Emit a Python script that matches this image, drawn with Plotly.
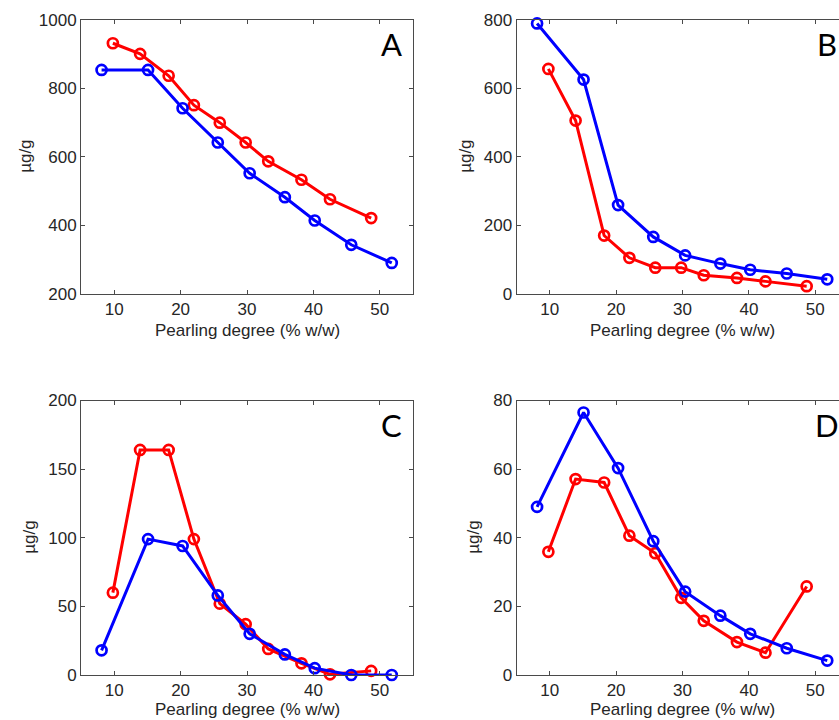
import plotly.graph_objects as go

# Pearling degree (% w/w) of the two series of fractions
x_blue = [8.1, 15.1, 20.3, 25.6, 30.4, 35.7, 40.2, 45.7, 51.8]
x_red = [9.8, 13.9, 18.2, 22.0, 25.9, 29.8, 33.2, 38.2, 42.5, 48.7]

# Concentrations (µg/g) per panel
a_blue = [854, 854, 742, 642, 552, 482, 414, 343, 290]
a_red = [932, 901, 837, 751, 700, 642, 587, 533, 476, 421]
b_blue = [790, 626, 259, 166, 112, 88, 70, 59, 42]
b_red = [657, 506, 170, 105, 76, 76, 54, 46, 36, 22]
c_blue = [18, 99, 94, 58, 30, 15, 5, 0, 0]
c_red = [60, 164, 164, 99, 52, 37, 19, 8.5, 0.5, 3]
d_blue = [49, 76.5, 60.3, 39, 24.3, 17.3, 12, 7.8, 4.2]
d_red = [35.9, 57.1, 56.1, 40.6, 35.5, 22.5, 15.8, 9.6, 6.5, 25.8]

panel_letters = ["A", "B", "C", "D"]
y_ranges = [[200, 1000], [0, 800], [0, 200], [0, 80]]
y_ticks = [[200, 400, 600, 800, 1000], [0, 200, 400, 600, 800],
           [0, 50, 100, 150, 200], [0, 20, 40, 60, 80]]
x_ticks = [10, 20, 30, 40, 50]
x_title = "Pearling degree (% w/w)"
y_title = "µg/g"

W, H = 839, 720
RED, BLUE = "#ff0000", "#0000ff"
TICK_FONT = dict(family="Liberation Sans, Arial, sans-serif", size=17, color="#262626")
AXIS_COLOR = "#4a4a4a"

# pixel geometry of the four plot areas: (left, right, top, bottom)
boxes = [(81, 413, 20, 293.7), (516.5, 839, 20, 293.7),
         (81, 413, 400.5, 675), (516.5, 839, 400.5, 675)]
PX_PER_UNIT = 6.64
# horizontal centre of the rotated y titles
ytitle_x = [26, 466, 30, 474]
# vertical centre of the x titles
xtitle_y = [331, 331, 709, 709]

series = [(a_red, a_blue), (b_red, b_blue), (c_red, c_blue), (d_red, d_blue)]

fig = go.Figure()
annotations = []
for i, ((red, blue), (l, r, t, b)) in enumerate(zip(series, boxes)):
    n = i + 1
    xa = "x" if n == 1 else f"x{n}"
    ya = "y" if n == 1 else f"y{n}"
    for xs, ys, col in ((x_red, red, RED), (x_blue, blue, BLUE)):
        fig.add_trace(go.Scatter(
            x=xs, y=ys, xaxis=xa, yaxis=ya, mode="lines+markers",
            line=dict(color=col, width=3),
            marker=dict(symbol="circle-open", size=10, line=dict(color=col, width=2.7)),
            cliponaxis=False, showlegend=False, hoverinfo="skip",
        ))
    x_hi = 5 + (r - l) / PX_PER_UNIT
    right_cut = r >= W
    xkey = "xaxis" if n == 1 else f"xaxis{n}"
    ykey = "yaxis" if n == 1 else f"yaxis{n}"
    fig.layout[xkey] = dict(
        domain=[l / W, r / W], range=[5, x_hi], anchor=ya,
        tickvals=x_ticks, ticks="inside", ticklen=4, tickcolor=AXIS_COLOR,
        showline=True, linecolor=AXIS_COLOR, linewidth=1, mirror="ticks",
        showgrid=False, zeroline=False, tickfont=TICK_FONT, automargin=False,
    )
    fig.layout[ykey] = dict(
        domain=[1 - b / H, 1 - t / H], range=y_ranges[i], anchor=xa,
        tickvals=y_ticks[i], ticks="inside", ticklen=4, tickcolor=AXIS_COLOR,
        showline=True, linecolor=AXIS_COLOR, linewidth=1,
        mirror=False if right_cut else "ticks",
        showgrid=False, zeroline=False, tickfont=TICK_FONT, automargin=False,
    )
    # x axis title, centred on the full (uncropped) axis width
    full_w = 413 - 81
    annotations.append(dict(
        text=x_title, xref="paper", yref="paper",
        x=(l + full_w / 2) / W,
        y=1 - xtitle_y[i] / H, xanchor="center", yanchor="middle",
        showarrow=False, font=TICK_FONT,
    ))
    # y axis title
    annotations.append(dict(
        text=y_title, xref="paper", yref="paper",
        x=ytitle_x[i] / W, y=1 - ((t + b) / 2) / H, textangle=-90,
        xanchor="center", yanchor="middle", showarrow=False, font=TICK_FONT,
    ))
    # panel letter
    annotations.append(dict(
        text=panel_letters[i], xref=xa, yref=f"{ya} domain",
        x=51.7, y=1 - 24 / (b - t), xanchor="center", yanchor="middle",
        showarrow=False,
        font=dict(family="Lato, Liberation Sans, sans-serif", size=31, color="#000000"),
    ))

fig.update_layout(
    width=W, height=H, margin=dict(l=0, r=0, t=0, b=0),
    paper_bgcolor="white", plot_bgcolor="white",
    showlegend=False, annotations=annotations,
)

fig.write_html("out.html")
